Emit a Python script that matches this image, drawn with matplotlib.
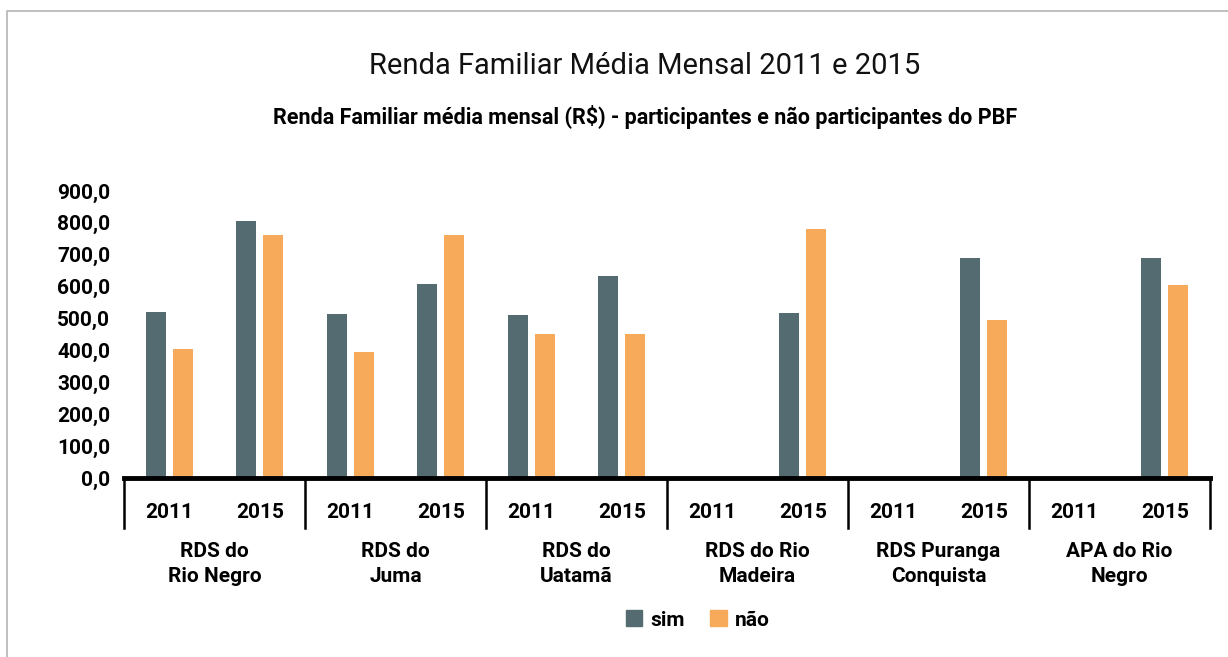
import numpy as np
import matplotlib
matplotlib.use("Agg")
import matplotlib.pyplot as plt
from matplotlib.patches import Patch, Rectangle

# ==========================================
# Data
# ==========================================
groups = ["RDS do\nRio Negro", "RDS do\nJuma", "RDS do\nUatamã",
          "RDS do Rio\nMadeira", "RDS Puranga\nConquista", "APA do Rio\nNegro"]
years = ["2011", "2015"]

sim_2011 = [520, 515, 512, np.nan, np.nan, np.nan]
nao_2011 = [405, 396, 452, np.nan, np.nan, np.nan]
sim_2015 = [805, 608, 633, 518, 690, 690]
nao_2015 = [762, 762, 452, 780, 496, 605]

yticks = [0, 100, 200, 300, 400, 500, 600, 700, 800, 900]

col_sim = "#546C71"
col_nao = "#F6AA5A"

plt.rcParams["font.family"] = ["Roboto", "DejaVu Sans"]

# ==========================================
# Figure / axes in pixel terms
# ==========================================
W, H = 1228, 657
fig = plt.figure(figsize=(W / 100, H / 100), dpi=100)
left, right, top, bottom = 124, 1210, 191, 478
ax = fig.add_axes([left / W, 1 - bottom / H, (right - left) / W, (bottom - top) / H])

# outer frame (only top / left visible)
fig.patches.append(Rectangle((7 / W, -0.2), 1.2, 1.2 - 11 / H,
                             transform=fig.transFigure, fill=False,
                             edgecolor="#b4b4b4", linewidth=1.2))

# ==========================================
# Bars
# ==========================================
n = len(groups)
w = 0.22
off = 0.149
x11 = np.arange(n) * 2 + 0.5
x15 = np.arange(n) * 2 + 1.5

ax.bar(x11 - off, sim_2011, width=w, color=col_sim)
ax.bar(x11 + off, nao_2011, width=w, color=col_nao)
ax.bar(x15 - off, sim_2015, width=w, color=col_sim)
ax.bar(x15 + off, nao_2015, width=w, color=col_nao)

ax.set_xlim(0, 2 * n)
ax.set_ylim(0, 900)

ax.set_yticks(yticks)
ax.set_yticklabels([f"{v},0" for v in yticks], fontsize=15, fontweight="bold")
ax.tick_params(axis="y", length=0, pad=10)
ax.set_xticks([])

for s in ["top", "right", "left"]:
    ax.spines[s].set_visible(False)
ax.spines["bottom"].set_linewidth(3.5)
ax.spines["bottom"].set_color("black")

# category separators and labels
tr = ax.get_xaxis_transform()
ax_h = bottom - top
for i in range(n + 1):
    ax.plot([2 * i, 2 * i], [0, -50 / ax_h], color="black", lw=1.8,
            transform=tr, clip_on=False)
for i in range(n):
    for j, yr in enumerate(years):
        ax.text(2 * i + 0.5 + j, -34 / ax_h, yr, transform=tr, ha="center",
                va="center", fontsize=15, fontweight="bold")
    ax.text(2 * i + 1, -86 / ax_h, groups[i], transform=tr, ha="center",
            va="center", fontsize=15, fontweight="bold", linespacing=1.35)

# ==========================================
# Titles and legend
# ==========================================
fig.text(645 / W, 1 - 66 / H, "Renda Familiar Média Mensal 2011 e 2015",
         ha="center", va="center", fontsize=21, fontweight="normal", color="#111111")
fig.text(645 / W, 1 - 117 / H,
         "Renda Familiar média mensal (R$) - participantes e não participantes do PBF",
         ha="center", va="center", fontsize=15.5, fontweight="bold")

handles = [Patch(color=col_sim, label="sim"), Patch(color=col_nao, label="não")]
leg = fig.legend(handles=handles, loc="center", bbox_to_anchor=(698 / W, 1 - 620 / H),
                 ncol=2, frameon=False, handlelength=0.8, handleheight=0.8,
                 handletextpad=0.4, columnspacing=1.2,
                 prop={"size": 15, "weight": "bold"})

fig.savefig("out.png", dpi=100)
